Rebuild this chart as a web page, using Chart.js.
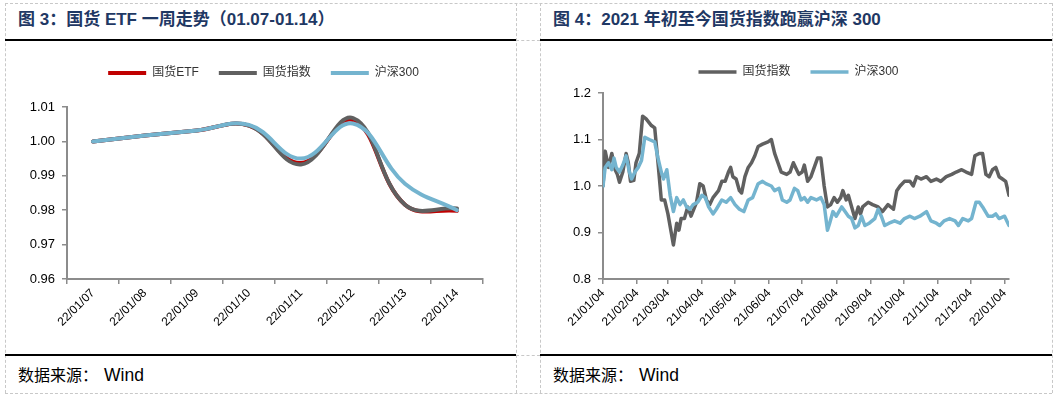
<!DOCTYPE html>
<html>
<head>
<meta charset="utf-8">
<script src="https://cdn.jsdelivr.net/npm/chart.js"></script>
<style>
  body { margin: 0; width: 1057px; height: 398px; background: #fff; position: relative; overflow: hidden;
         font-family: "Liberation Sans", "Noto Sans CJK SC", sans-serif; }
  .dash-v { position: absolute; width: 0; border-left: 1px dashed #c8c8c8; }
  .dash-h { position: absolute; height: 0; border-top: 1px dashed #c8c8c8; }
  .rule { position: absolute; height: 2px; background: #000; }
  .title { position: absolute; top: 10px; line-height: 20px; font-size: 17px; font-weight: bold; color: #1f3864; white-space: nowrap; }
  .source { position: absolute; top: 366px; line-height: 18px; font-size: 16px; color: #000; white-space: nowrap; }
  .source span { font-size: 17.5px; margin-left: 6px; }
  canvas { position: absolute; }
</style>
</head>
<body>
<!-- 外框与分隔线 -->
<div class="dash-h" style="left:5px; top:3px; width:1047px;"></div>
<div class="dash-h" style="left:5px; top:393px; width:1047px;"></div>
<div class="dash-v" style="left:5px; top:3px; height:390px;"></div>
<div class="dash-v" style="left:1052px; top:3px; height:390px;"></div>
<div class="dash-v" style="left:516px; top:3px; height:390px;"></div>
<div class="dash-v" style="left:540px; top:3px; height:390px;"></div>
<div class="dash-h" style="left:516px; top:40px; width:24px;"></div>
<div class="dash-h" style="left:516px; top:355px; width:24px;"></div>
<div class="rule" style="left:5px; top:39px; width:511px;"></div>
<div class="rule" style="left:540px; top:39px; width:512px;"></div>
<div class="rule" style="left:5px; top:354px; width:511px;"></div>
<div class="rule" style="left:540px; top:354px; width:512px;"></div>

<div class="title" style="left:18px;">图 3：国货 ETF 一周走势（01.07-01.14）</div>
<div class="title" style="left:553px;">图 4：2021 年初至今国货指数跑赢沪深 300</div>

<canvas id="weekChart" width="509" height="311" style="left:6px; top:42px;"></canvas>
<canvas id="yearChart" width="510" height="311" style="left:541px; top:42px;"></canvas>

<div class="source" style="left:18px;">数据来源：<span>Wind</span></div>
<div class="source" style="left:553px;">数据来源：<span>Wind</span></div>

<script>
// ==============================
// 图3 数据：一周走势
// ==============================
const weekLabels = ['22/01/07', '22/01/08', '22/01/09', '22/01/10', '22/01/11', '22/01/12', '22/01/13', '22/01/14'];
const etfWeek    = [1.0000, 1.0017, 1.0032, 1.0046, 0.9937, 1.0062, 0.9816, 0.9798];
const indexWeek  = [1.0000, 1.0017, 1.0032, 1.0046, 0.9933, 1.0068, 0.9816, 0.9805];
const hs300Week  = [1.0000, 1.0017, 1.0032, 1.0048, 0.9950, 1.0052, 0.9877, 0.9800];
const weekTicks  = [0.96, 0.97, 0.98, 0.99, 1.00, 1.01];

// ==============================
// 图4 数据：横轴为距 2021/01/04 的天数
// ==============================
const monthTickDays   = [0, 31, 59, 90, 120, 151, 181, 212, 243, 273, 304, 334, 365];
const monthTickLabels = ['21/01/04', '21/02/04', '21/03/04', '21/04/04', '21/05/04', '21/06/04', '21/07/04',
                         '21/08/04', '21/09/04', '21/10/04', '21/11/04', '21/12/04', '22/01/04'];
const yearTicks = [0.8, 0.9, 1.0, 1.1, 1.2];

const indexDays = [0, 2, 5, 8, 11, 13, 15, 18, 21, 23, 25, 28, 30, 33, 36, 39, 44, 47, 50, 53, 56, 59, 62, 64,
  67, 69, 71, 74, 77, 80, 85, 88, 91, 94, 97, 100, 105, 108, 111, 114, 116, 118, 121, 124, 126, 129, 132, 135,
  138, 141, 145, 150, 153, 156, 159, 162, 167, 170, 173, 175, 178, 181, 183, 186, 189, 192, 195, 198, 201, 204,
  207, 210, 213, 216, 218, 221, 223, 226, 229, 232, 234, 236, 241, 245, 250, 254, 259, 264, 267, 270, 274, 279,
  282, 285, 289, 294, 298, 303, 307, 312, 317, 321, 326, 330, 335, 338, 342, 345, 348, 351, 354, 357, 360, 363,
  366, 369];
const indexYear = [1.000, 1.075, 1.040, 1.070, 1.035, 1.025, 1.008, 1.030, 1.070, 1.050, 1.010, 1.012, 1.050,
  1.070, 1.150, 1.145, 1.130, 1.125, 1.050, 0.970, 0.970, 0.940, 0.900, 0.873, 0.920, 0.905, 0.930, 0.930, 0.955,
  0.935, 0.965, 1.005, 1.000, 0.970, 0.960, 0.975, 0.990, 1.010, 1.010, 1.030, 1.040, 1.020, 1.015, 0.990, 0.985,
  1.020, 1.040, 1.050, 1.065, 1.085, 1.090, 1.095, 1.100, 1.070, 1.050, 1.030, 1.025, 1.030, 1.050, 1.040, 1.025,
  1.030, 1.045, 1.010, 1.020, 1.040, 1.060, 1.060, 1.000, 0.955, 0.960, 0.975, 0.965, 0.975, 0.990, 0.970, 0.980,
  0.955, 0.930, 0.955, 0.940, 0.955, 0.965, 0.960, 0.955, 0.945, 0.960, 0.950, 0.990, 1.000, 1.010, 1.010, 1.000,
  1.020, 1.015, 1.020, 1.010, 1.015, 1.010, 1.020, 1.025, 1.030, 1.035, 1.030, 1.025, 1.065, 1.070, 1.070, 1.025,
  1.020, 1.035, 1.040, 1.020, 1.015, 1.010, 0.980];

const hs300Days = [0, 2, 5, 8, 10, 12, 15, 18, 21, 24, 26, 29, 32, 35, 38, 42, 47, 50, 53, 55, 58, 61, 64, 67,
  70, 73, 76, 79, 82, 86, 90, 93, 96, 100, 103, 108, 112, 116, 120, 124, 128, 132, 136, 141, 145, 148, 153, 156,
  160, 163, 167, 170, 174, 177, 180, 183, 186, 189, 194, 198, 201, 204, 206, 209, 212, 217, 220, 223, 226, 229,
  232, 235, 238, 242, 247, 250, 253, 256, 260, 265, 270, 274, 279, 283, 288, 294, 298, 303, 306, 310, 315, 320,
  323, 327, 332, 335, 339, 342, 345, 350, 354, 357, 360, 365, 369];
const hs300Year = [1.000, 1.040, 1.050, 1.035, 1.060, 1.040, 1.030, 1.045, 1.065, 1.030, 1.015, 1.030, 1.040,
  1.055, 1.105, 1.100, 1.095, 1.060, 1.030, 1.015, 1.035, 0.980, 0.945, 0.975, 0.960, 0.970, 0.955, 0.950, 0.960,
  0.965, 0.980, 0.975, 0.955, 0.940, 0.950, 0.970, 0.965, 0.975, 0.960, 0.950, 0.945, 0.970, 0.975, 1.005, 1.010,
  1.005, 1.000, 0.990, 0.995, 0.970, 0.965, 0.970, 0.995, 0.990, 0.970, 0.975, 0.965, 0.975, 0.970, 0.975, 0.960,
  0.905, 0.920, 0.945, 0.935, 0.955, 0.945, 0.935, 0.930, 0.910, 0.915, 0.935, 0.915, 0.920, 0.930, 0.950, 0.935,
  0.915, 0.920, 0.925, 0.920, 0.930, 0.935, 0.930, 0.935, 0.945, 0.925, 0.920, 0.915, 0.925, 0.930, 0.925, 0.915,
  0.930, 0.925, 0.930, 0.965, 0.965, 0.955, 0.935, 0.935, 0.940, 0.930, 0.935, 0.915];

// ==============================
// 公共样式
// ==============================
Chart.defaults.font.family = '"Liberation Sans", "Noto Sans CJK SC", sans-serif';
Chart.defaults.color = '#000';
const AXIS_GRAY = '#8c8c8c';

function toPoints(days, values) {
  return days.map((d, i) => ({ x: d, y: values[i] }));
}

// legend 高度固定（对齐绘图区顶部），并水平平移到图例中心位置
function legendBox(h, centerX) {
  return {
    id: 'legendBox',
    beforeInit(chart) {
      const origFit = chart.legend.fit;
      chart.legend.fit = function fit() {
        origFit.bind(chart.legend)();
        this.height = h;
      };
    },
    afterLayout(chart) {
      const lg = chart.legend;
      const dx = centerX - (lg.left + lg.right) / 2;
      lg.left += dx;
      lg.right += dx;
    }
  };
}

function legendOptions() {
  return {
    position: 'top',
    labels: {
      usePointStyle: true,
      pointStyle: 'line',
      pointStyleWidth: 38,
      padding: 20,
      color: '#333',
      font: { size: 12 },
      sort: (a, b) => a.datasetIndex - b.datasetIndex
    }
  };
}

function axisStyle(offset) {
  return {
    grid: { offset: !!offset, drawOnChartArea: false, tickLength: 5, color: AXIS_GRAY, lineWidth: 1.5 },
    border: { color: AXIS_GRAY, width: 2 }
  };
}

// ==============================
// 图3：国货 ETF 一周走势
// ==============================
new Chart(document.getElementById('weekChart'), {
  type: 'line',
  data: {
    labels: weekLabels,
    datasets: [
      { label: '国货ETF', data: etfWeek, borderColor: '#c00000', backgroundColor: '#c00000', order: 3 },
      { label: '国货指数', data: indexWeek, borderColor: '#606060', backgroundColor: '#606060', order: 2 },
      { label: '沪深300', data: hs300Week, borderColor: '#74b4cf', backgroundColor: '#74b4cf', order: 1 }
    ].map(ds => Object.assign(ds, { borderWidth: 4, pointRadius: 0, tension: 0.4, borderCapStyle: 'round' }))
  },
  options: {
    responsive: false,
    animation: false,
    layout: { padding: { left: 0, right: 32, top: 5, bottom: 0 } },
    plugins: { legend: legendOptions(), tooltip: { enabled: false } },
    scales: {
      x: Object.assign(axisStyle(true), {
        offset: true,
        ticks: { autoSkip: false, minRotation: 45, maxRotation: 45, padding: 2, font: { size: 12 } },
        afterFit: s => { s.height = 74; }
      }),
      y: Object.assign(axisStyle(), {
        min: weekTicks[0],
        max: weekTicks[weekTicks.length - 1],
        afterBuildTicks: s => { s.ticks = weekTicks.map(v => ({ value: v })); },
        ticks: { padding: 7, font: { size: 13 }, callback: v => Number(v).toFixed(2) },
        afterFit: s => { s.width = 61; }
      })
    }
  },
  plugins: [legendBox(60, 257.5)]
});

// ==============================
// 图4：2021 年初至今国货指数跑赢沪深 300
// ==============================
new Chart(document.getElementById('yearChart'), {
  type: 'line',
  data: {
    datasets: [
      { label: '国货指数', data: toPoints(indexDays, indexYear), borderColor: '#606060', backgroundColor: '#606060', order: 2 },
      { label: '沪深300', data: toPoints(hs300Days, hs300Year), borderColor: '#74b4cf', backgroundColor: '#74b4cf', order: 1 }
    ].map(ds => Object.assign(ds, { borderWidth: 3.5, pointRadius: 0, tension: 0, borderCapStyle: 'round', borderJoinStyle: 'round' }))
  },
  options: {
    responsive: false,
    animation: false,
    layout: { padding: { left: 0, right: 42, top: 4, bottom: 0 } },
    plugins: { legend: legendOptions(), tooltip: { enabled: false } },
    scales: {
      x: Object.assign(axisStyle(), {
        type: 'linear',
        min: 0,
        max: 369,
        afterBuildTicks: s => { s.ticks = monthTickDays.map(v => ({ value: v })); },
        ticks: { autoSkip: false, minRotation: 45, maxRotation: 45, padding: 2, font: { size: 12 },
                 callback: (v, i) => monthTickLabels[i] },
        afterFit: s => { s.height = 74; }
      }),
      y: Object.assign(axisStyle(), {
        min: yearTicks[0],
        max: yearTicks[yearTicks.length - 1],
        afterBuildTicks: s => { s.ticks = yearTicks.map(v => ({ value: v })); },
        ticks: { padding: 7, font: { size: 13 }, callback: v => Number(v).toFixed(1) },
        afterFit: s => { s.width = 62; }
      })
    }
  },
  plugins: [legendBox(47, 257.5)]
});
</script>
</body>
</html>
